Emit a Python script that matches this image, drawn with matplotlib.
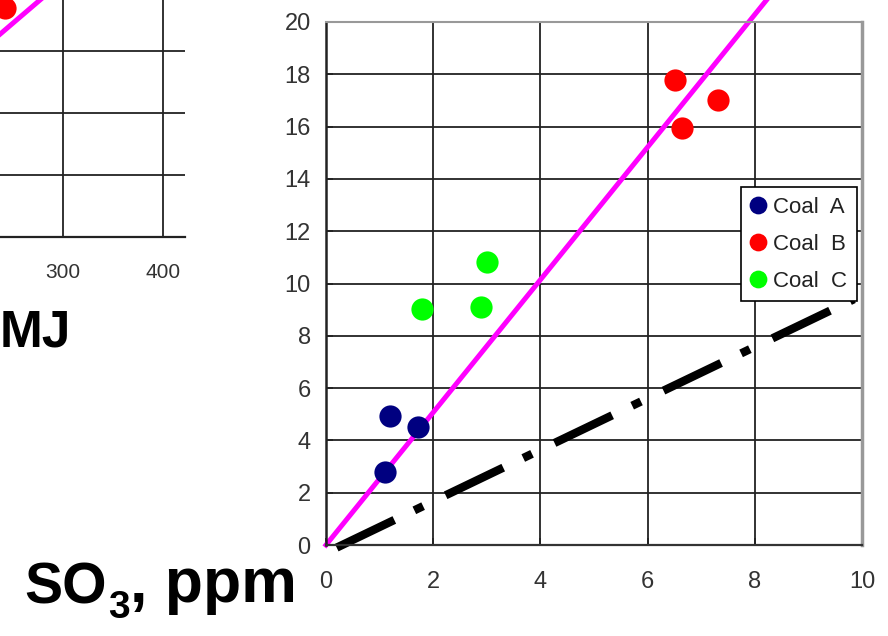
import matplotlib
matplotlib.use("Agg")
import matplotlib.pyplot as plt

plt.rcParams["font.family"] = ["Liberation Sans", "DejaVu Sans"]
plt.rcParams["lines.scale_dashes"] = False

# SO3 measured vs. predicted, three coals
coal_a_x = [1.1, 1.2, 1.72]
coal_a_y = [2.8, 4.92, 4.5]
coal_b_x = [6.52, 7.32, 6.64]
coal_b_y = [17.8, 17.0, 15.95]
coal_c_x = [1.8, 2.9, 3.0]
coal_c_y = [9.02, 9.12, 10.84]

# fitted line and reference line
fit_x = [0, 8.4]
fit_y = [0, 21.3]
ref_x = [0.2, 9.85]
ref_y = [-0.1, 9.4]

# left panel (only its right part is in frame)
left_fit_x = [0, 300]
left_fit_y = [0, 20.7]
left_pt_x = [242]
left_pt_y = [18.5]
left_xticks = [300, 400]
left_yticks = [0, 5, 10, 15, 20, 25]

xticks = [0, 2, 4, 6, 8, 10]
yticks = [0, 2, 4, 6, 8, 10, 12, 14, 16, 18, 20]

W, H = 888, 636
fig = plt.figure(figsize=(W / 100, H / 100), dpi=100)


def px_axes(l, t, r, b):
    return fig.add_axes([l / W, 1 - b / H, (r - l) / W, (b - t) / H])


# ---- left panel ----
axl = px_axes(63 - 300, 237 - 25 * 12.4, 185, 237)
axl.set_xlim(0, 422)
axl.set_ylim(0, 25)
axl.set_xticks(left_xticks)
axl.set_yticks(left_yticks)
axl.grid(True, color="#222222", lw=1.3)
axl.set_axisbelow(True)
axl.plot(left_fit_x, left_fit_y, color="#ff00ff", lw=3.6)
axl.plot(left_pt_x, left_pt_y, "o", color="#ff0000", ms=16, mec="none")
for s in ["top", "left", "right"]:
    axl.spines[s].set_visible(False)
axl.spines["bottom"].set_color("#222222")
axl.spines["bottom"].set_linewidth(1.6)
axl.tick_params(length=0, labelsize=15, colors="#333333", pad=19)
axl.tick_params(axis="y", labelleft=False)

# ---- right panel ----
ax = px_axes(326, 22, 862, 545)
ax.set_xlim(0, 10)
ax.set_ylim(0, 20)
ax.set_xticks(xticks)
ax.set_yticks(yticks)
ax.grid(True, color="#222222", lw=1.3)
ax.set_axisbelow(True)

ax.plot(fit_x, fit_y, color="#ff00ff", lw=3.6, clip_on=False, zorder=2)
ref, = ax.plot(ref_x, ref_y, color="black", lw=6, clip_on=False, zorder=2,
               solid_capstyle="butt", dash_capstyle="butt")
ref.set_dashes((46, 16, 7, 18))

ax.plot(coal_a_x, coal_a_y, "o", color="#000080", ms=16, mec="none",
        label="Coal  A", zorder=4)
ax.plot(coal_b_x, coal_b_y, "o", color="#ff0000", ms=16, mec="none",
        label="Coal  B", zorder=4)
ax.plot(coal_c_x, coal_c_y, "o", color="#00ff00", ms=16, mec="none",
        label="Coal  C", zorder=4)

leg = ax.legend(loc="upper right", bbox_to_anchor=(0.99, 0.684), fontsize=16,
                markerscale=0.8, handlelength=0.75, handletextpad=0.3,
                labelspacing=0.72, borderpad=0.42, borderaxespad=0,
                fancybox=False, framealpha=1, edgecolor="black")
leg.get_frame().set_linewidth(1.2)
for t in leg.get_texts():
    t.set_color("#222222")

ax.spines["left"].set_color("#222222")
ax.spines["left"].set_linewidth(1.8)
ax.spines["bottom"].set_color("#333333")
ax.spines["bottom"].set_linewidth(1.6)
ax.spines["top"].set_color("#999999")
ax.spines["top"].set_linewidth(1.5)
ax.spines["right"].set_color("#999999")
ax.spines["right"].set_linewidth(2.5)
ax.tick_params(direction="in", length=5, width=1.3, colors="#222222",
               labelsize=17, labelcolor="#333333")
ax.tick_params(axis="x", pad=19)
ax.tick_params(axis="y", pad=11)

# big captions: "SO" + subscript "3" + ", ppm"
fig.text(0 / W, 1 - 333 / H, "MJ", fontsize=37, fontweight="bold",
         ha="left", va="center")
so = fig.text(24 / W, 1 - 603 / H, "SO", va="baseline", ha="left",
              fontsize=41, fontweight="bold")
sub = ax.annotate("3", xy=(1, 0), xycoords=so, xytext=(1, -8),
                  textcoords="offset points", fontsize=28, fontweight="bold",
                  va="bottom", ha="left", annotation_clip=False)
ax.annotate(", ppm", xy=(1, 0), xycoords=(sub, so), xytext=(0, 0),
            textcoords="offset points", va="bottom", ha="left",
            fontsize=45, fontweight="bold", annotation_clip=False)

fig.savefig("out.png", dpi=100)
